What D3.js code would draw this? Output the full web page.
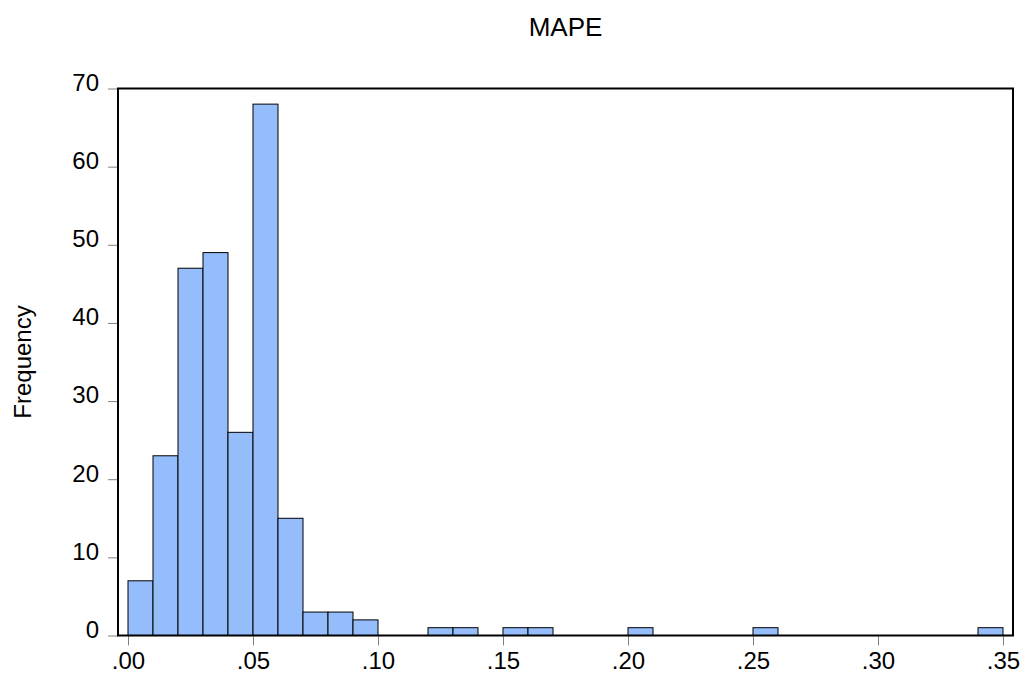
<!DOCTYPE html>
<html>
<head>
<meta charset="utf-8">
<script src="https://cdn.jsdelivr.net/npm/d3@7"></script>
<style>
  html, body { margin: 0; padding: 0; background: #fff; }
  text { font-family: "Liberation Sans", Arial, sans-serif; fill: #000; }
</style>
</head>
<body>
<div id="chart"></div>
<script>
// histogram bins (lower edge), width .01
let binStarts = [0.00, 0.01, 0.02, 0.03, 0.04, 0.05, 0.06, 0.07, 0.08, 0.09, 0.12, 0.13, 0.15, 0.16, 0.20, 0.25, 0.34]
let counts = [7, 23, 47, 49, 26, 68, 15, 3, 3, 2, 1, 1, 1, 1, 1, 1, 1]
let binWidth = 0.01

let xTicks = [0, 0.05, 0.10, 0.15, 0.20, 0.25, 0.30, 0.35]
let xTickLabels = ['.00', '.05', '.10', '.15', '.20', '.25', '.30', '.35']
let yTicks = [0, 10, 20, 30, 40, 50, 60, 70]

let width = 1025
let height = 675
let plotLeft = 118
let plotRight = 1013
let plotTop = 88.5
let plotBottom = 635.5

let svg = d3.select('#chart').append('svg').attr('width', width).attr('height', height)

let x = d3.scaleLinear().domain([-0.004, 0.354]).range([plotLeft, plotRight])
let y = d3.scaleLinear().domain([0, 70]).range([plotBottom, plotTop])

let bins = binStarts.map((b, i) => ({ x0: b, x1: b + binWidth, n: counts[i] }))

svg.append('g').selectAll('rect')
    .data(bins)
    .enter().append('rect')
      .attr('x', (d) => x(d.x0))
      .attr('y', (d) => y(d.n))
      .attr('width', (d) => x(d.x1) - x(d.x0))
      .attr('height', (d) => y(0) - y(d.n))
      .attr('fill', '#96bdfb')
      .attr('stroke', '#000')
      .attr('stroke-width', 1)

// y axis
let yAxis = svg.append('g').attr('transform', 'translate(' + plotLeft + ',0)')
    .call(d3.axisLeft(y).tickValues(yTicks).tickSize(10).tickPadding(9))
yAxis.select('.domain').remove()
yAxis.selectAll('line').attr('stroke', '#808080')
yAxis.selectAll('text').attr('font-size', 24).attr('dy', '0.08em')
    .attr('font-family', '"Liberation Sans", Arial, sans-serif')

// x axis
let xAxis = svg.append('g').attr('transform', 'translate(0,' + plotBottom + ')')
    .call(d3.axisBottom(x).tickValues(xTicks).tickFormat((d, i) => xTickLabels[i]).tickSize(10).tickPadding(6))
xAxis.select('.domain').remove()
xAxis.selectAll('line').attr('stroke', '#808080')
xAxis.selectAll('text').attr('font-size', 24).attr('font-family', '"Liberation Sans", Arial, sans-serif')

// frame
svg.append('rect')
    .attr('x', plotLeft).attr('y', plotTop)
    .attr('width', plotRight - plotLeft).attr('height', plotBottom - plotTop)
    .attr('fill', 'none').attr('stroke', '#000').attr('stroke-width', 2)

svg.append('text')
    .attr('x', (plotLeft + plotRight) / 2).attr('y', 36)
    .attr('text-anchor', 'middle').attr('font-size', 26)
    .text('MAPE')

svg.append('text')
    .attr('transform', 'translate(31,' + ((plotTop + plotBottom) / 2) + ') rotate(-90)')
    .attr('text-anchor', 'middle').attr('font-size', 24)
    .text('Frequency')
</script>
</body>
</html>
